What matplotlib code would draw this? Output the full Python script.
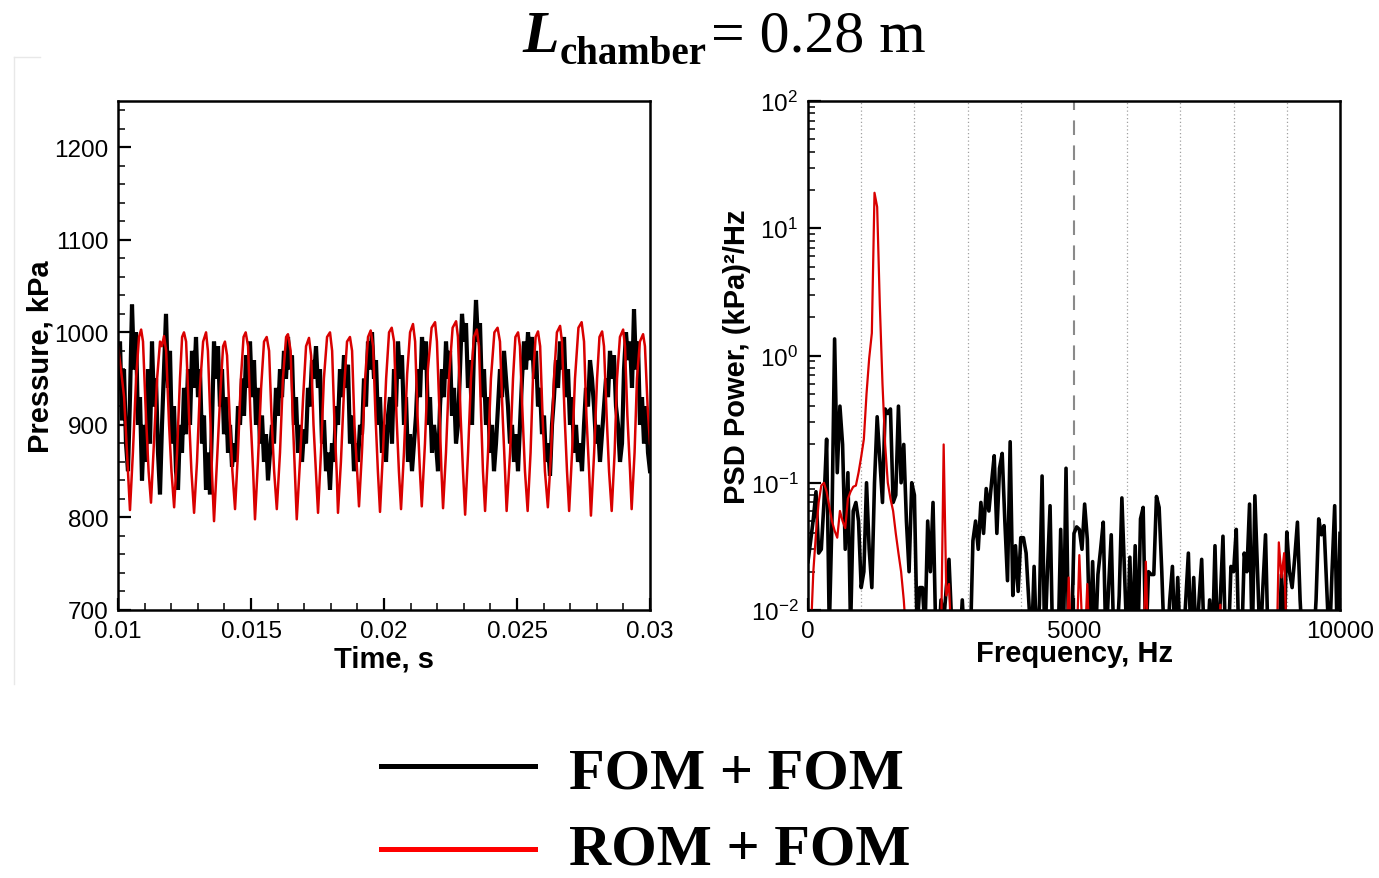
import numpy as np
import matplotlib
matplotlib.use('Agg')
import matplotlib.pyplot as plt
from matplotlib.lines import Line2D
from matplotlib.ticker import MultipleLocator, FuncFormatter, LogLocator, NullFormatter, FixedLocator

plt.rcParams['font.family'] = ['Liberation Sans', 'DejaVu Sans']
plt.rcParams['mathtext.fontset'] = 'custom'
plt.rcParams['mathtext.rm'] = 'Liberation Sans'
plt.rcParams['mathtext.it'] = 'Liberation Sans:italic'
plt.rcParams['mathtext.bf'] = 'Liberation Sans:bold'

# ---------------- data: pressure time histories ----------------
# FOM + FOM (black), sampled uniformly between 0.01 s and 0.03 s
fom_pressure = [
    940, 990, 905, 960, 880, 850, 930, 1030, 960, 1000,
    900, 930, 840, 900, 860, 960, 880, 990, 920, 950,
    870, 825, 900, 960, 1020, 940, 980, 880, 920, 850,
    830, 900, 870, 940, 890, 960, 900, 980, 940, 995,
    930, 960, 880, 910, 830, 870, 825, 900, 990, 950,
    985, 920, 960, 890, 930, 870, 900, 855, 880, 860,
    920, 900, 950, 910, 975, 940, 990, 930, 970, 900,
    940, 880, 910, 860, 890, 840, 870, 900, 880, 940,
    910, 960, 930, 980, 950, 995, 960, 975, 900, 930,
    870, 900, 860, 895, 880, 940, 920, 970, 950, 985,
    940, 960, 880, 905, 850, 870, 830, 880, 860, 920,
    900, 960, 930, 975, 940, 965, 880, 910, 850, 880,
    860, 900, 890, 950, 920, 990, 960, 1000, 950, 970,
    900, 930, 870, 900, 860, 910, 930, 880, 960, 920,
    990, 950, 975, 900, 930, 860, 890, 850, 880, 910,
    960, 930, 995, 960, 990, 900, 930, 870, 900, 880,
    850, 920, 960, 930, 990, 950, 980, 910, 940, 880,
    900, 960, 1020, 990, 1010, 940, 970, 900, 980, 1035,
    990, 1010, 930, 960, 900, 930, 870, 900, 850, 880,
    920, 960, 930, 980, 950, 920, 880, 900, 860, 890,
    850, 900, 950, 990, 960, 1000, 970, 995, 950, 980,
    920, 940, 890, 910, 860, 880, 845, 900, 930, 970,
    940, 990, 960, 995, 930, 960, 900, 930, 870, 900,
    860, 880, 850, 900, 940, 920, 970, 950, 920, 880,
    900, 860, 890, 920, 950, 930, 980, 950, 975, 920,
    900, 860, 880, 960, 1000, 970, 990, 940, 1025, 960,
    990, 900, 930, 880, 920, 870, 850,
]

# ROM + FOM (red): time in ms and pressure in kPa
rom_time_ms = [
    10.00, 10.11, 10.23, 10.34, 10.45, 10.56, 10.68, 10.79, 10.87, 10.94,
    11.05, 11.15, 11.24, 11.35, 11.47, 11.58, 11.65, 11.73, 11.81, 11.92,
    12.01, 12.11, 12.22, 12.33, 12.41, 12.48, 12.56, 12.67, 12.76, 12.86,
    12.97, 13.08, 13.20, 13.31, 13.38, 13.48, 13.53, 13.61, 13.72, 13.84,
    13.95, 14.02, 14.10, 14.21, 14.30, 14.40, 14.51, 14.62, 14.72, 14.80,
    14.89, 14.98, 15.08, 15.15, 15.26, 15.38, 15.49, 15.59, 15.68, 15.77,
    15.87, 15.97, 16.09, 16.20, 16.32, 16.39, 16.49, 16.58, 16.65, 16.72,
    16.84, 16.96, 17.07, 17.18, 17.26, 17.35, 17.44, 17.52, 17.63, 17.74,
    17.86, 17.97, 18.05, 18.14, 18.22, 18.27, 18.38, 18.50, 18.61, 18.72,
    18.80, 18.89, 18.99, 19.06, 19.17, 19.29, 19.40, 19.50, 19.59, 19.68,
    19.77, 19.85, 19.96, 20.08, 20.19, 20.29, 20.38, 20.47, 20.56, 20.64,
    20.75, 20.87, 20.98, 21.09, 21.17, 21.26, 21.35, 21.42, 21.54, 21.65,
    21.79, 21.92, 21.99, 22.09, 22.16, 22.22, 22.33, 22.44, 22.58, 22.71,
    22.78, 22.88, 22.97, 23.05, 23.16, 23.27, 23.38, 23.49, 23.57, 23.65,
    23.72, 23.80, 23.91, 24.02, 24.15, 24.27, 24.36, 24.46, 24.55, 24.61,
    24.74, 24.85, 24.94, 25.04, 25.11, 25.21, 25.30, 25.40, 25.51, 25.60,
    25.70, 25.79, 25.87, 25.96, 26.05, 26.16, 26.28, 26.39, 26.50, 26.62,
    26.69, 26.79, 26.88, 26.96, 27.07, 27.18, 27.31, 27.43, 27.52, 27.61,
    27.71, 27.78, 27.90, 28.01, 28.10, 28.20, 28.27, 28.37, 28.46, 28.56,
    28.67, 28.76, 28.87, 28.99, 29.06, 29.15, 29.25, 29.31, 29.42, 29.51,
    29.62, 29.74, 29.81, 29.91, 30.00,
]
rom_pressure = [
    985, 960, 930, 870, 808, 870, 950, 995, 1003, 990,
    910, 850, 816, 880, 950, 990, 985, 996, 980, 900,
    850, 811, 870, 950, 995, 1000, 990, 910, 850, 805,
    860, 940, 990, 1000, 980, 900, 850, 796, 860, 930,
    985, 990, 975, 900, 850, 809, 870, 950, 995, 1000,
    985, 910, 850, 798, 860, 940, 990, 995, 980, 910,
    850, 809, 870, 950, 995, 998, 980, 900, 850, 798,
    860, 930, 985, 994, 975, 900, 850, 805, 870, 950,
    995, 1000, 980, 900, 850, 805, 860, 940, 990, 995,
    980, 900, 850, 812, 870, 950, 995, 1002, 985, 910,
    850, 806, 870, 950, 1000, 1005, 990, 910, 850, 809,
    870, 955, 1000, 1009, 990, 910, 850, 812, 880, 960,
    1005, 1011, 990, 910, 850, 810, 870, 950, 1005, 1012,
    995, 910, 850, 803, 870, 950, 995, 1003, 985, 910,
    850, 807, 870, 950, 1000, 1005, 990, 910, 850, 807,
    870, 950, 995, 1000, 985, 910, 850, 807, 870, 950,
    995, 1001, 985, 910, 850, 811, 870, 950, 1000, 1007,
    990, 910, 850, 807, 870, 950, 1005, 1011, 990, 910,
    850, 802, 870, 950, 995, 1001, 985, 910, 850, 807,
    870, 950, 995, 1003, 985, 910, 850, 809, 870, 950,
    990, 998, 985, 920, 880,
]

# ---------------- data: power spectral densities ----------------
psd_freq_step = 50          # Hz
fom_psd = [
    0.024, 0.035, 0.052, 0.085, 0.028, 0.03, 0.07, 0.22, 0.007, 0.05,
    1.35, 0.12, 0.4, 0.2, 0.03, 0.12, 0.007, 0.06, 0.07, 0.05,
    0.015, 0.02, 0.1, 0.03, 0.015, 0.1, 0.33, 0.15, 0.07, 0.38,
    0.35, 0.38, 0.07, 0.08, 0.4, 0.1, 0.2, 0.05, 0.02, 0.1,
    0.08, 0.007, 0.015, 0.015, 0.007, 0.05, 0.02, 0.07, 0.007, 0.005,
    0.012, 0.008, 0.015, 0.025, 0.008, 0.005, 0.005, 0.005, 0.012, 0.005,
    0.005, 0.005, 0.035, 0.05, 0.03, 0.07, 0.04, 0.09, 0.06, 0.1,
    0.163, 0.04, 0.13, 0.17, 0.05, 0.017, 0.21, 0.013, 0.032, 0.014,
    0.037, 0.037, 0.028, 0.012, 0.005, 0.022, 0.005, 0.011, 0.113, 0.005,
    0.02, 0.066, 0.005, 0.005, 0.005, 0.043, 0.005, 0.13, 0.005, 0.005,
    0.04, 0.045, 0.043, 0.03, 0.068, 0.036, 0.005, 0.024, 0.005, 0.019,
    0.03, 0.049, 0.005, 0.015, 0.039, 0.005, 0.005, 0.013, 0.076, 0.02,
    0.005, 0.026, 0.005, 0.032, 0.005, 0.052, 0.064, 0.005, 0.02, 0.019,
    0.019, 0.078, 0.064, 0.02, 0.005, 0.005, 0.012, 0.022, 0.005, 0.018,
    0.005, 0.005, 0.012, 0.028, 0.005, 0.018, 0.005, 0.012, 0.025, 0.005,
    0.005, 0.012, 0.005, 0.032, 0.005, 0.012, 0.038, 0.005, 0.005, 0.022,
    0.02, 0.043, 0.005, 0.005, 0.028, 0.02, 0.068, 0.005, 0.079, 0.02,
    0.005, 0.015, 0.039, 0.005, 0.005, 0.005, 0.005, 0.005, 0.019, 0.005,
    0.041, 0.02, 0.015, 0.026, 0.049, 0.012, 0.005, 0.005, 0.005, 0.005,
    0.005, 0.012, 0.052, 0.039, 0.046, 0.015, 0.005, 0.02, 0.066, 0.005,
    0.04,
]
rom_psd = [
    0.005, 0.006, 0.02, 0.04, 0.07, 0.095, 0.1, 0.085, 0.065, 0.05,
    0.042, 0.037, 0.06, 0.05, 0.044, 0.075, 0.085, 0.093, 0.095, 0.12,
    0.16, 0.22, 0.5, 0.95, 1.5, 19.0, 14.7, 2.5, 0.6, 0.2,
    0.1, 0.075, 0.06, 0.04, 0.028, 0.02, 0.012, 0.006, 0.004, 0.003,
    0.003, 0.003, 0.003, 0.003, 0.003, 0.003, 0.003, 0.003, 0.003, 0.003,
    0.005, 0.2, 0.013, 0.016, 0.005, 0.003, 0.003, 0.003, 0.003, 0.003,
    0.003, 0.003, 0.003, 0.003, 0.003, 0.003, 0.003, 0.003, 0.003, 0.003,
    0.003, 0.003, 0.003, 0.003, 0.003, 0.003, 0.003, 0.003, 0.003, 0.003,
    0.003, 0.003, 0.003, 0.003, 0.003, 0.003, 0.003, 0.003, 0.003, 0.003,
    0.003, 0.003, 0.003, 0.003, 0.003, 0.003, 0.003, 0.003, 0.018, 0.005,
    0.005, 0.005, 0.027, 0.008, 0.005, 0.016, 0.004, 0.003, 0.003, 0.003,
    0.003, 0.003, 0.003, 0.003, 0.003, 0.003, 0.003, 0.003, 0.003, 0.003,
    0.003, 0.003, 0.003, 0.003, 0.003, 0.003, 0.004, 0.024, 0.004, 0.003,
    0.003, 0.003, 0.003, 0.003, 0.003, 0.003, 0.003, 0.003, 0.003, 0.003,
    0.003, 0.003, 0.003, 0.003, 0.003, 0.003, 0.003, 0.003, 0.003, 0.003,
    0.003, 0.003, 0.003, 0.003, 0.003, 0.011, 0.003, 0.003, 0.003, 0.003,
    0.003, 0.003, 0.003, 0.003, 0.003, 0.003, 0.003, 0.003, 0.003, 0.003,
    0.003, 0.003, 0.003, 0.003, 0.003, 0.003, 0.003, 0.034, 0.018, 0.028,
    0.005, 0.003, 0.003, 0.003, 0.003, 0.003, 0.003, 0.003, 0.003, 0.003,
    0.003, 0.003, 0.003, 0.003, 0.003, 0.003, 0.003, 0.003, 0.003, 0.003,
    0.003,
]

time_ticks = [0.01, 0.015, 0.02, 0.025, 0.03]
pressure_ticks = [700, 800, 900, 1000, 1100, 1200]
freq_ticks = [0, 5000, 10000]
freq_gridlines = [1000, 2000, 3000, 4000, 6000, 7000, 8000, 9000]
legend_labels = ['FOM + FOM', 'ROM + FOM']

assert len(rom_time_ms) == len(rom_pressure)
assert len(fom_psd) == len(rom_psd) == 201

fom_time = np.linspace(0.01, 0.03, len(fom_pressure))
rom_time = np.array(rom_time_ms) / 1000.0
psd_freq = np.arange(len(fom_psd)) * psd_freq_step

# ---------------- figure ----------------
W, H = 1379, 879
fig = plt.figure(figsize=(W / 100, H / 100), dpi=100)

def fx(px):
    return px / W

def fy(py):
    return 1 - py / H

ax1 = fig.add_axes([fx(118), fy(611), fx(650) - fx(118), fy(102) - fy(611)])
ax2 = fig.add_axes([fx(808), fy(611), fx(1340) - fx(808), fy(102) - fy(611)])

RED = '#d90000'

# left: pressure histories
ax1.plot(fom_time, fom_pressure, color='black', lw=3.0, solid_joinstyle='miter')
ax1.plot(rom_time, rom_pressure, color=RED, lw=1.8)
ax1.set_xlim(0.01, 0.03)
ax1.set_ylim(700, 1250)
ax1.xaxis.set_major_locator(FixedLocator(time_ticks))
ax1.xaxis.set_major_formatter(FuncFormatter(lambda v, p: '%g' % round(v, 4)))
ax1.xaxis.set_minor_locator(MultipleLocator(0.001))
ax1.yaxis.set_major_locator(FixedLocator(pressure_ticks))
ax1.yaxis.set_minor_locator(MultipleLocator(20))
ax1.set_xlabel('Time, s', fontsize=21, fontweight='bold')
ax1.set_ylabel('Pressure, kPa', fontsize=21, fontweight='bold')
ax1.xaxis.set_label_coords(0.5, (611 - 646) / 509)
ax1.xaxis.label.set_va('top')
ax1.yaxis.set_label_coords((55 - 118) / 532, 0.5)

# right: PSD
for f in freq_gridlines:
    ax2.axvline(f, color='#a0a0a0', lw=0.9, ls=(0, (1, 2)), zorder=0)
ax2.axvline(5000, color='#8a8a8a', lw=1.5, ls=(0, (7, 5)), zorder=0)
ax2.plot(psd_freq, fom_psd, color='black', lw=2.6)
ax2.plot(psd_freq, rom_psd, color=RED, lw=1.6)
ax2.set_xlim(0, 10000)
ax2.set_yscale('log')
ax2.set_ylim(1e-2, 1e2)
ax2.xaxis.set_major_locator(FixedLocator(freq_ticks))
ax2.yaxis.set_major_locator(LogLocator(base=10, numticks=10))
ax2.yaxis.set_minor_locator(LogLocator(base=10, subs=np.arange(2, 10), numticks=20))
ax2.yaxis.set_minor_formatter(NullFormatter())
ax2.set_xlabel('Frequency, Hz', fontsize=21, fontweight='bold')
ax2.set_ylabel('PSD Power, (kPa)\u00b2/Hz', fontsize=21, fontweight='bold')
ax2.xaxis.set_label_coords(0.5, (611 - 640) / 509)
ax2.xaxis.label.set_va('top')
ax2.yaxis.set_label_coords((751 - 808) / 532, 0.5)

for ax in (ax1, ax2):
    for s in ax.spines.values():
        s.set_linewidth(1.8)
    ax.tick_params(which='major', direction='in', length=9, width=1.6,
                   labelsize=17.5, pad=7, top=False, right=False)
    ax.tick_params(which='minor', direction='in', length=5, width=1.1,
                   top=False, right=False)

# title
serif = ['Liberation Serif', 'DejaVu Serif']
fig.text(fx(522), fy(52), 'L', fontsize=43, family=serif, fontweight='bold',
         fontstyle='italic', ha='left', va='baseline')
fig.text(fx(560), fy(64), 'chamber', fontsize=28, family=serif, fontweight='bold',
         ha='left', va='baseline')
fig.text(fx(711), fy(52), '= 0.28 m', fontsize=43, family=serif,
         ha='left', va='baseline')

# legend
fig.add_artist(Line2D([fx(381), fx(535)], [fy(767), fy(767)], color='black', lw=3.6))
fig.add_artist(Line2D([fx(381), fx(535)], [fy(850), fy(850)], color='#ff0000', lw=3.6))
fig.text(fx(569), fy(789), legend_labels[0], fontsize=42, family=serif,
         fontweight='bold', ha='left', va='baseline')
fig.text(fx(569), fy(865), legend_labels[1], fontsize=42, family=serif,
         fontweight='bold', ha='left', va='baseline')

# faint frame remnant at left
fig.add_artist(Line2D([fx(14), fx(14)], [fy(58), fy(685)], color='#e8e8e8', lw=1))
fig.add_artist(Line2D([fx(14), fx(40)], [fy(58), fy(58)], color='#e8e8e8', lw=1))

fig.savefig('out.png', dpi=100)
